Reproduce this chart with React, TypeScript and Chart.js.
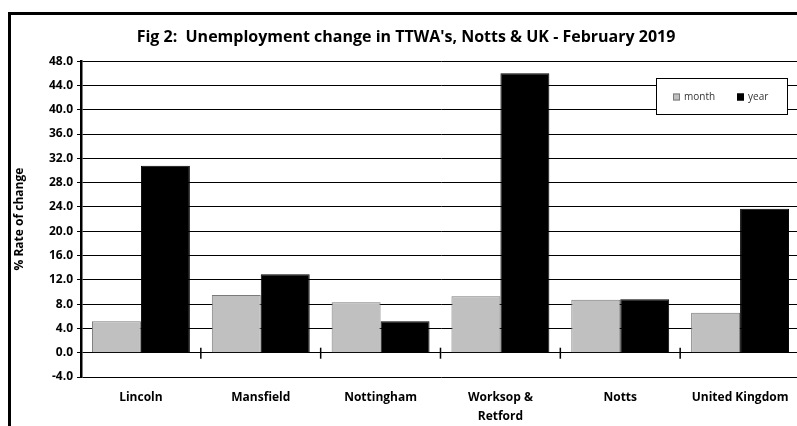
import React, { useEffect, useRef } from "react";
import { Chart, registerables } from "chart.js";

Chart.register(...registerables);

const categories: (string | string[])[] = [
  "Lincoln",
  "Mansfield",
  "Nottingham",
  ["Worksop &", "Retford"],
  "Notts",
  "United Kingdom",
];
const monthValues = [5.2, 9.5, 8.3, 9.3, 8.7, 6.6];
const yearValues = [30.8, 12.9, 5.2, 46.0, 8.8, 23.7];
const seriesLabels = ["month", "year"];
const chartTitle = "Fig 2:  Unemployment change in TTWA's, Notts & UK - February 2019";
const yAxisTitle = "% Rate of change";

const FONT = "'Open Sans', Lato, sans-serif";

const framePlugin = {
  id: "frame",
  beforeDraw(chart: any) {
    const ctx = chart.ctx;
    ctx.save();
    ctx.fillStyle = "#fff";
    ctx.fillRect(0, 0, chart.width, chart.height);
    ctx.strokeStyle = "#000";
    ctx.lineWidth = 3;
    ctx.strokeRect(9.5, 13.5, chart.width + 20, chart.height + 20);
    ctx.restore();
  },
};

const zeroTicksPlugin = {
  id: "zeroTicks",
  afterDatasetsDraw(chart: any) {
    const x = chart.scales.x;
    const y = chart.scales.y;
    const ctx = chart.ctx;
    const y0 = y.getPixelForValue(0);
    ctx.save();
    ctx.strokeStyle = "#000";
    ctx.lineWidth = 1.5;
    for (let i = 0; i < categories.length; i++) {
      const px = (x.getPixelForValue(i) + x.getPixelForValue(i + 1)) / 2;
      ctx.beginPath();
      ctx.moveTo(px, y0 - 5);
      ctx.lineTo(px, y0 + 6);
      ctx.stroke();
    }
    ctx.restore();
  },
};

const legendPlugin = {
  id: "customLegend",
  afterDraw(chart: any) {
    const ctx = chart.ctx;
    const ds = chart.data.datasets;
    ctx.save();
    const bx = 656.5, by = 78.5, bw = 131, bh = 36;
    ctx.fillStyle = "#fff";
    ctx.fillRect(bx, by, bw, bh);
    ctx.strokeStyle = "#000";
    ctx.lineWidth = 1;
    ctx.strokeRect(bx, by, bw, bh);
    ctx.font = `10px ${FONT}`;
    ctx.textBaseline = "middle";
    const positions = [673, 737];
    ds.forEach((d: any, i: number) => {
      const sx = positions[i];
      const cy = 97;
      ctx.fillStyle = d.backgroundColor;
      ctx.fillRect(sx, cy - 3.5, 7, 7);
      ctx.strokeStyle = d.borderColor;
      ctx.lineWidth = 1;
      ctx.strokeRect(sx + 0.5, cy - 3, 6, 6);
      ctx.fillStyle = "#333";
      ctx.fillText(d.label, sx + 11, cy);
    });
    ctx.restore();
  },
};

export default function App() {
  const ref = useRef<HTMLCanvasElement>(null);
  useEffect(() => {
    if (!ref.current) return;
    const chart = new Chart(ref.current, {
      type: "bar",
      data: {
        labels: categories as any,
        datasets: [
          {
            label: seriesLabels[0],
            data: monthValues,
            backgroundColor: "#c0c0c0",
            borderColor: "#7a7a7a",
            borderWidth: 1,
            categoryPercentage: 0.817,
            barPercentage: 1,
          },
          {
            label: seriesLabels[1],
            data: yearValues,
            backgroundColor: "#000000",
            borderColor: "#000000",
            borderWidth: 1,
            categoryPercentage: 0.817,
            barPercentage: 1,
          },
        ],
      },
      options: {
        animation: false,
        responsive: false,
        maintainAspectRatio: false,
        devicePixelRatio: 1,
        layout: { padding: { left: 12, top: 28, right: 0, bottom: 0 } },
        plugins: {
          legend: { display: false },
          tooltip: { enabled: false },
          title: {
            display: true,
            text: chartTitle,
            color: "#000",
            font: { family: FONT, size: 16, weight: "bold", lineHeight: 1.2 },
            padding: { top: 0, bottom: 14 },
          },
        },
        scales: {
          x: {
            grid: { display: false, drawTicks: false },
            border: { display: false },
            ticks: {
              color: "#000",
              font: { family: FONT, size: 12, weight: "bold", lineHeight: 1.6 },
              padding: 11,
              maxRotation: 0,
              autoSkip: false,
            },
            afterFit(scale: any) {
              scale.height = 49;
            },
          },
          y: {
            min: -4,
            max: 48,
            ticks: {
              stepSize: 4,
              color: "#000",
              font: { family: FONT, size: 12, weight: "bold" },
              padding: 4,
              callback: (v: any) => Number(v).toFixed(1),
            },
            grid: { color: "#000", lineWidth: 1, tickLength: 4 },
            border: { display: true, color: "#000", width: 2.5 },
            title: {
              display: true,
              text: yAxisTitle,
              color: "#000",
              font: { family: FONT, size: 12, weight: "bold" },
              padding: 0,
            },
            afterFit(scale: any) {
              scale.width = 69;
            },
          },
        },
      },
      plugins: [framePlugin, zeroTicksPlugin, legendPlugin],
    });
    return () => chart.destroy();
  }, []);
  return (
    <div
      style={{
        position: "fixed",
        left: 0,
        top: 0,
        width: 797,
        height: 426,
        overflow: "hidden",
        background: "#fff",
      }}
    >
      <canvas ref={ref} width={800} height={426} style={{ width: 800, height: 426, display: "block" }} />
    </div>
  );
}
